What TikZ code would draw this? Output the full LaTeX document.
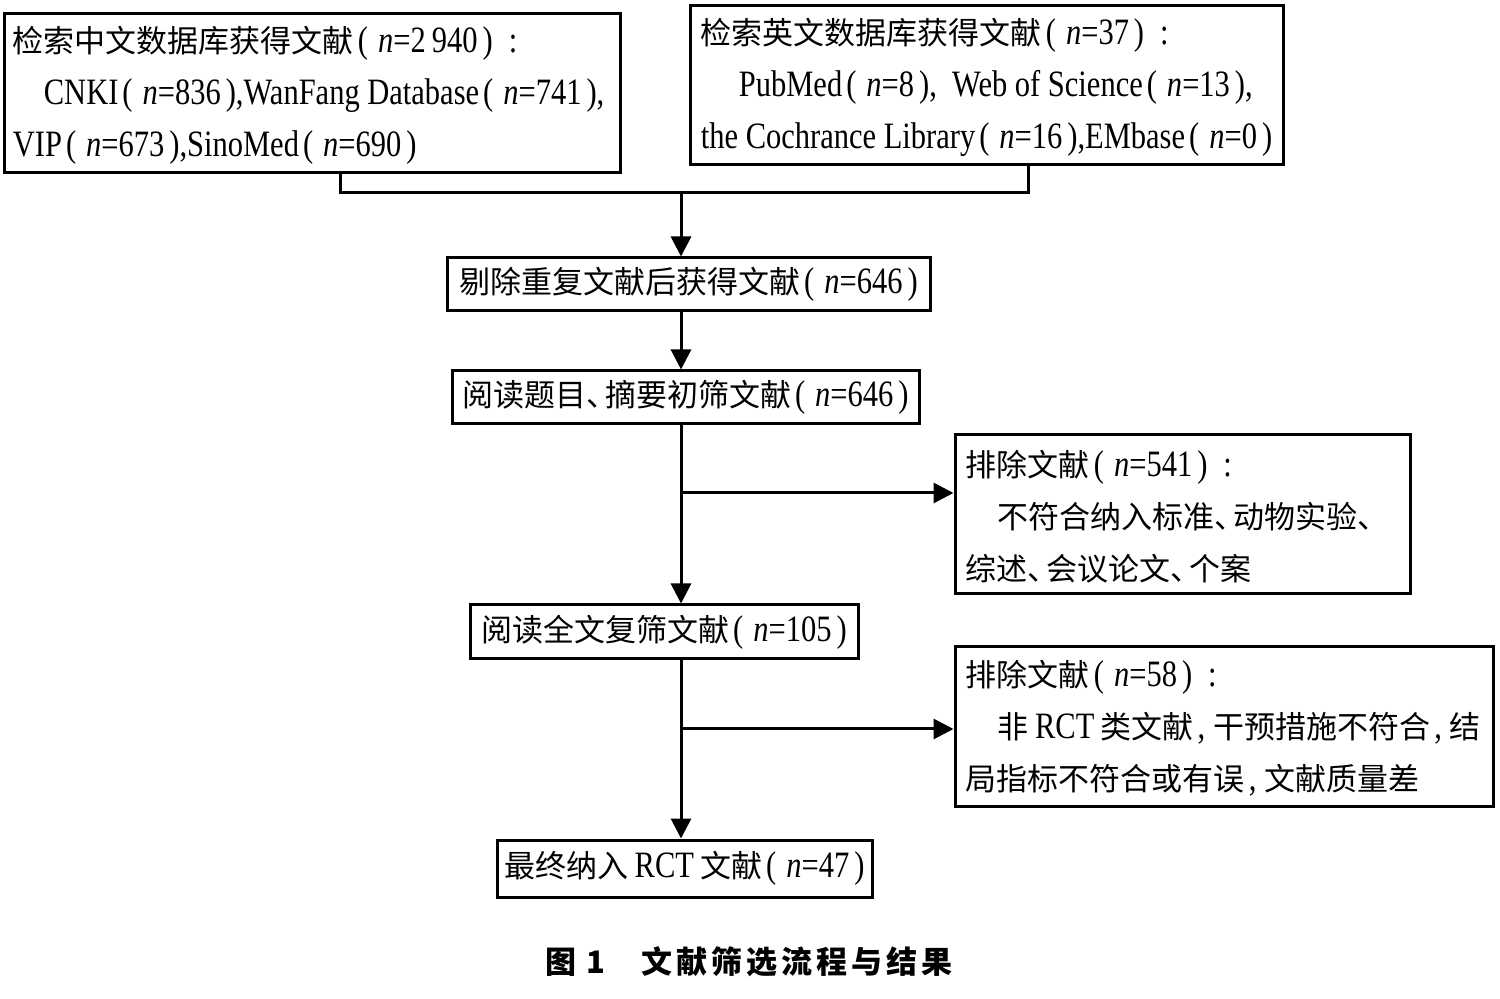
\documentclass[tikz,border=0pt]{standalone}
\usepackage{fontspec}
\usetikzlibrary{arrows.meta}
\setmainfont{Liberation Serif}[Scale=1.2,FakeStretch=0.82]
\newfontfamily\cjk{Noto Sans CJK SC}
\newcommand\zh[1]{{\cjk #1}}
\newcommand\nn{\textit{n}}
\newcommand\zlp{\hspace{2pt}(\hspace{5pt}}
\newcommand\zrp{\hspace{2.5pt})}
\newcommand\zcol{\hspace{8pt}:}
\newcommand\zcom{\hspace{2pt},\hspace{4pt}}
\newcommand\dun{{\cjk\makebox[0.6em][l]{、}}}
\tikzset{
  every node/.style={font=\fontsize{15.5}{26}\selectfont},
  box/.style={draw, line width=1.5pt, inner sep=0pt},
  txt/.style={align=left, inner sep=0pt, anchor=west},
  conn/.style={line width=1.5pt},
  arr/.style={line width=1.5pt, -{Triangle[length=10pt,width=10pt]}}
}
\begin{document}
\begin{tikzpicture}[x=0.5pt,y=-0.5pt]
\useasboundingbox[fill=white] (0,0) rectangle (1500,999);
% boxes
\node[box, minimum width=308pt, minimum height=79.5pt] (box1) at (312,93.5) {};
\node[box, minimum width=296.5pt, minimum height=79.5pt] (box2) at (986.5,85.5) {};
\node[box, minimum width=241.5pt, minimum height=26.5pt] (box3) at (688.5,284.5)
  {\zh{剔除重复文献后获得文献}\zlp\nn=646\zrp};
\node[box, minimum width=233.5pt, minimum height=26.5pt] (box4) at (685.5,397.5)
  {\zh{阅读题目}\dun\zh{摘要初筛文献}\zlp\nn=646\zrp};
\node[box, minimum width=194pt, minimum height=27pt] (box5) at (664,632)
  {\zh{阅读全文复筛文献}\zlp\nn=105\zrp};
\node[box, minimum width=227.5pt, minimum height=79.5pt] (box6) at (1182.5,514.5) {};
\node[box, minimum width=187.5pt, minimum height=28.5pt] (box7) at (684.5,868.5)
  {\zh{最终纳入}\,RCT\,\zh{文献}\zlp\nn=47\zrp};
\node[box, minimum width=269pt, minimum height=79.5pt] (box8) at (1224,726.5) {};
% texts of multi-line boxes
\node[txt] (t1) at ([xshift=5pt,yshift=-1pt]box1.west)
  {\zh{检索中文数据库获得文献}\zlp\nn=2\,940\zrp\zcol\\
   \hspace*{15.5pt}CNKI\zlp\nn=836\zrp,WanFang Database\zlp\nn=741\zrp,\\
   VIP\zlp\nn=673\zrp,SinoMed\zlp\nn=690\zrp};
\node[txt] (t2) at ([xshift=6pt,yshift=-1pt]box2.west)
  {\zh{检索英文数据库获得文献}\zlp\nn=37\zrp\zcol\\
   \hspace*{19pt}PubMed\zlp\nn=8\zrp, \ Web of Science\zlp\nn=13\zrp,\\
   the Cochrance Library\zlp\nn=16\zrp,EMbase\zlp\nn=0\zrp};
\node[txt] (t6) at ([xshift=6pt,yshift=-1pt]box6.west)
  {\zh{排除文献}\zlp\nn=541\zrp\zcol\\
   \hspace*{16pt}\zh{不符合纳入标准}\dun\zh{动物实验}\dun\\
   \zh{综述}\dun\zh{会议论文}\dun\zh{个案}};
\node[txt] (t8) at ([xshift=6pt,yshift=-1pt]box8.west)
  {\zh{排除文献}\zlp\nn=58\zrp\zcol\\
   \hspace*{16pt}\zh{非}\,RCT\,\zh{类文献}\zcom\zh{干预措施不符合}\zcom\zh{结}\\
   \zh{局指标不符合或有误}\zcom\zh{文献质量差}};
% connectors
\coordinate (j1) at (340,193);
\coordinate (j2) at (1028,193);
\coordinate (jm) at (681,193);
\coordinate (b1) at (681,493);
\coordinate (b2) at (681,729);
\draw[conn] (box1.south -| j1) -- (j1) -- (j2) -- (box2.south -| j2);
\draw[arr] (jm) -- (box3.north -| jm);
\draw[arr] (box3.south -| jm) -- (box4.north -| jm);
\draw[arr] (box4.south -| jm) -- (box5.north -| jm);
\draw[arr] (b1) -- (box6.west |- b1);
\draw[arr] (box5.south -| jm) -- (box7.north -| jm);
\draw[arr] (b2) -- (box8.west |- b2);
% caption
\node (cap) at (749,962) {\cjk\bfseries 图\hspace{5pt}1\hspace{18pt}文\hspace{2pt}献\hspace{2pt}筛\hspace{2pt}选\hspace{2pt}流\hspace{2pt}程\hspace{2pt}与\hspace{2pt}结\hspace{2pt}果};
\end{tikzpicture}
\end{document}
